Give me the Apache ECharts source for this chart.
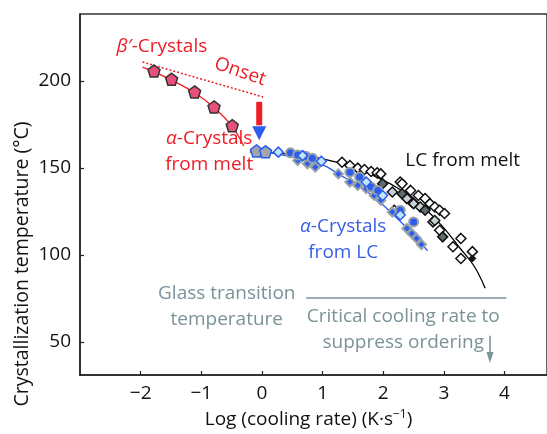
<!DOCTYPE html>
<html>
<head>
<meta charset="utf-8">
<script src="https://cdn.jsdelivr.net/npm/echarts@6/dist/echarts.min.js"></script>
<style>
  html, body { margin: 0; padding: 0; background: #fff; }
  #main { width: 547px; height: 434px; }
</style>
</head>
<body>
<div id="main"></div>
<script>
// values: [log cooling rate, crystallization temperature]
var xTicks = [-2, -1, 0, 1, 2, 3, 4];
var yTicks = [50, 100, 150, 200];

var meltAlpha = [[-1.78, 205.7], [-1.49, 201.0], [-1.11, 193.7], [-0.79, 185.1], [-0.49, 174.3]];
var meltAlphaFit = [[-1.97, 208.0], [-1.78, 205.3], [-1.49, 200.5], [-1.11, 193.2], [-0.79, 184.7], [-0.49, 173.8], [-0.30, 162.6]];
var onsetLine = [[-1.97, 210.9], [0.02, 190.8]];

var lcPentagons = [[-0.09, 159.8], [0.06, 159.3]];
var lcLightDiamonds = [[0.27, 159.1], [0.67, 157.1], [0.98, 153.9], [1.72, 141.9], [1.99, 134.2], [2.28, 123.0]];
var lcCircles = [[0.47, 158.7], [0.59, 157.5], [0.72, 156.8], [0.83, 155.6], [1.45, 147.6], [1.61, 144.8],
  [1.80, 139.0], [1.91, 137.1], [2.28, 125.7], [2.50, 119.0]];
var lcDiamonds = [[0.59, 154.3], [0.75, 152.4], [0.88, 150.5], [1.26, 146.6], [1.45, 141.9], [1.58, 140.0],
  [1.72, 138.1], [1.85, 134.2], [1.96, 131.4], [2.15, 124.7], [2.39, 115.2], [2.47, 112.3], [2.55, 109.5], [2.63, 106.0]];
var lcFit = [[-0.19, 159.4], [0.24, 158.1], [1.0, 151.8], [1.21, 147.6], [1.74, 136.2], [2.12, 124.7], [2.45, 113.3], [2.73, 102.4]];

var meltLcWhite = [[1.32, 153.3], [1.45, 151.4], [1.58, 149.9], [1.69, 149.1], [1.80, 148.0], [1.90, 147.2], [1.96, 146.6],
  [2.18, 125.7], [2.28, 141.9], [2.31, 140.9], [2.37, 133.3], [2.45, 137.1], [2.47, 130.5], [2.58, 134.2], [2.69, 132.4],
  [2.77, 129.5], [2.85, 127.6], [2.93, 125.7], [3.01, 123.8], [2.82, 119.0], [2.93, 114.2], [3.15, 104.7], [3.28, 109.5],
  [3.28, 98.0], [3.47, 101.9]];
var meltLcDark = [[1.99, 140.9], [2.31, 135.2], [2.69, 125.7], [2.98, 110.4]];
var meltLcLight = [[2.15, 136.2], [2.39, 132.4], [2.50, 129.5], [2.61, 127.6], [2.85, 119.8]];
var meltLcBlack = [[3.47, 98.0]];
var meltLcFit = [[-0.20, 159.2], [0.56, 157.5], [1.21, 153.5], [1.85, 145.5], [2.34, 136.3], [2.69, 126.6],
  [2.98, 116.3], [3.27, 103.7], [3.50, 93.5], [3.68, 80.9]];

var onsetArrow = [[-0.045, 188], [-0.045, 174.5]];
var onsetHead = [[-0.045, 170]];
var glassLine = [[0.73, 75.2], [4.03, 75.2]];
var criticalArrow = [[3.76, 53.5], [3.76, 43]];
var criticalHead = [[3.76, 41]];

var notes = [
  { name: 'beta', value: [-1.65, 219.8], text: '{i|β′}-Crystals', color: '#ee1c25', rotate: 0 },
  { name: 'onset', value: [-0.36, 205.3], text: 'Onset', color: '#ee1c25', rotate: -19 },
  { name: 'alphaMelt', value: [-0.87, 159.2], text: '{i|α}-Crystals\nfrom melt', color: '#ee1c25', rotate: 0 },
  { name: 'lcMelt', value: [3.31, 154.1], text: 'LC from melt', color: '#111', rotate: 0 },
  { name: 'alphaLc', value: [1.34, 108.9], text: '{i|α}-Crystals\nfrom LC', color: '#3a5fe6', rotate: 0 },
  { name: 'glass', value: [-0.58, 70.6], text: 'Glass transition\ntemperature', color: '#7a9298', rotate: 0 },
  { name: 'critical', value: [2.33, 56.9], text: 'Critical cooling rate to\nsuppress ordering', color: '#7a9298', rotate: 0 }
];

var FONT = 'Open Sans';
var FS = 19;
var RED = '#ee1c25';
var BLUE = '#2d5cf0';
var GREY = '#7a9298';
var pentagon = 'path://M0,-10 L9.51,-3.09 L5.88,8.09 L-5.88,8.09 L-9.51,-3.09 Z';

var chart = echarts.init(document.getElementById('main'));

function lineSeries(data, color, width, type, smooth) {
  return {
    type: 'line', data: data, symbol: 'none', smooth: smooth ? 0.4 : false, silent: true,
    lineStyle: { color: color, width: width, type: type || 'solid' }, z: 2
  };
}
function dots(data, symbol, size, fill, border, bw, z, rotate) {
  return {
    type: 'scatter', data: data, symbol: symbol, symbolSize: size, symbolRotate: rotate || 0,
    itemStyle: { color: fill, borderColor: border, borderWidth: bw, opacity: 1 }, z: z || 3
  };
}

var series = [
  lineSeries(onsetLine, RED, 1.5, [2, 2]),
  lineSeries(meltAlphaFit, RED, 1.3, 'solid', true),
  lineSeries(meltLcFit, '#000', 1.3, 'solid', true),
  lineSeries(lcFit, BLUE, 1.3, 'solid', true),
  lineSeries(glassLine, GREY, 1.5),
  lineSeries(criticalArrow, GREY, 1.5),
  lineSeries(onsetArrow, RED, 6),
  dots(onsetHead, 'triangle', [14, 14], BLUE, BLUE, 0, 5, 180),
  dots(criticalHead, 'triangle', [7, 11], GREY, GREY, 0, 5, 180),
  dots(meltLcWhite, 'diamond', 10, '#fff', '#111', 1.5, 3),
  dots(meltLcLight, 'diamond', 10, '#c8d2d4', '#111', 1.5, 4),
  dots(meltLcDark, 'diamond', 10, '#5d6a6e', '#111', 1.5, 4),
  dots(meltLcBlack, 'diamond', 7, '#111', '#111', 1, 4),
  dots(lcDiamonds, 'diamond', 9, BLUE, '#97a3a6', 2, 4),
  dots(lcCircles, 'circle', 9, BLUE, '#97a3a6', 2, 4),
  dots(lcLightDiamonds, 'diamond', 10, '#bfe6fa', BLUE, 1.5, 5),
  dots(lcPentagons, pentagon, 12, '#9ea6ac', BLUE, 1.5, 5),
  dots(meltAlpha, pentagon, 12, '#e8507c', '#333', 1.5, 5),
  {
    type: 'scatter', symbolSize: 0, silent: true, z: 6,
    itemStyle: { opacity: 1 },
    data: notes.map(function (n) {
      return {
        name: n.name, value: n.value,
        label: {
          show: true, position: 'inside', formatter: n.text, color: n.color, rotate: n.rotate,
          fontFamily: FONT, fontSize: FS, lineHeight: 26, align: 'center', verticalAlign: 'middle',
          rich: { i: { fontStyle: 'italic', fontFamily: FONT, fontSize: FS, color: n.color } }
        }
      };
    })
  }
];

var option = {
  animation: false,
  backgroundColor: '#fff',
  textStyle: { fontFamily: FONT },
  grid: { left: 80, top: 14, width: 477, height: 363.5, show: true, borderColor: '#333', borderWidth: 1.5, backgroundColor: 'transparent' },
  xAxis: {
    type: 'value', min: -3, max: 4.7,
    name: 'Log (cooling rate) (K·s{s|−1})', nameLocation: 'middle', nameGap: 34,
    nameTextStyle: { color: '#111', fontSize: FS, fontFamily: FONT, padding: [0, 10, 0, 0],
      rich: { s: { fontSize: 12, verticalAlign: 'top', padding: [0, 0, 9, 0], color: '#111', fontFamily: FONT } } },
    splitLine: { show: false },
    axisLine: { onZero: false, lineStyle: { color: '#222', width: 1.5 } },
    axisTick: { inside: true, length: 4, customValues: xTicks, lineStyle: { color: '#222', width: 1.2 } },
    axisLabel: { customValues: xTicks, color: '#111', fontSize: FS, margin: 9,
      formatter: function (v) { return v < 0 ? '\u2212' + Math.abs(v) : String(v); } }
  },
  yAxis: {
    type: 'value', min: 31, max: 238.5,
    splitLine: { show: false },
    axisLine: { onZero: false, lineStyle: { color: '#222', width: 1.5 } },
    axisTick: { inside: true, length: 4, customValues: yTicks, lineStyle: { color: '#222', width: 1.2 } },
    axisLabel: { customValues: yTicks, color: '#111', fontSize: FS, margin: 9 }
  },
  graphic: [{
    type: 'text', x: 22, y: 264, rotation: Math.PI / 2,
    style: { text: 'Crystallization temperature (°C)', fill: '#111', font: '19.5px "Open Sans"', align: 'center', verticalAlign: 'middle' }
  }],
  series: series
};

chart.setOption(option);
</script>
</body>
</html>
